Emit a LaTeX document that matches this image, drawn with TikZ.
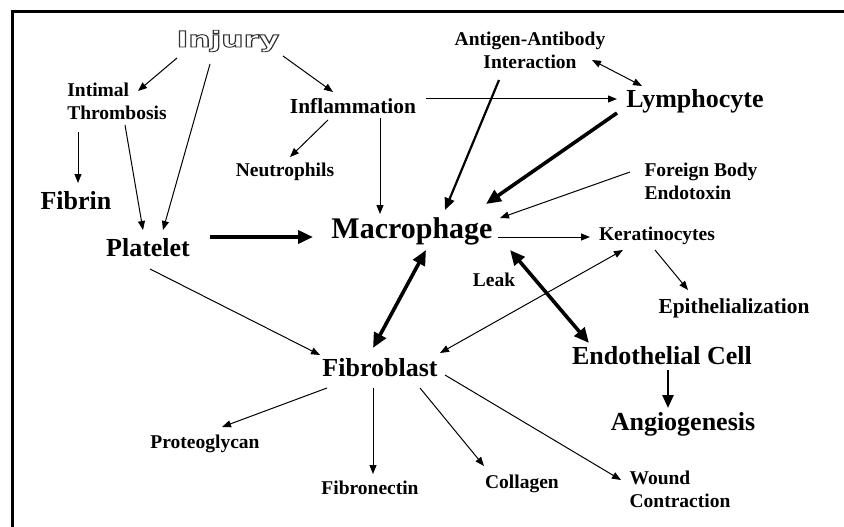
\documentclass[tikz,border=0pt]{standalone}
\usepackage{fontspec}
\setmainfont{Liberation Serif}
\newfontfamily\injuryfont{DejaVu Sans}
\usetikzlibrary{arrows.meta}
\newcommand{\outlinetext}[1]{\special{pdf:literal direct 1 Tr 0.9 w}#1\special{pdf:literal direct 0 Tr}}
\begin{document}
\begin{tikzpicture}[x=1pt,y=-1pt,
  lbl/.style={inner sep=0pt, align=left, font=\bfseries\fontsize{19.5}{23}\selectfont},
  lblc/.style={inner sep=0pt, align=center, font=\bfseries\fontsize{19.5}{23}\selectfont},
  mid/.style={inner sep=0pt, font=\bfseries\fontsize{21.4}{25}\selectfont},
  big/.style={inner sep=0pt, font=\bfseries\fontsize{26}{30}\selectfont},
  huge/.style={inner sep=0pt, font=\bfseries\fontsize{30}{34}\selectfont},
  thin/.style={line width=1pt, -{Triangle[length=9pt,width=7pt]}},
  thinb/.style={line width=1pt, {Triangle[length=9pt,width=7pt]}-{Triangle[length=9pt,width=7pt]}},
  medium/.style={line width=2.2pt, -{Triangle[length=12pt,width=10pt]}},
  thick/.style={line width=3.6pt, -{Triangle[length=15pt,width=13pt]}},
  thickb/.style={line width=3.6pt, {Triangle[length=15pt,width=13pt]}-{Triangle[length=15pt,width=13pt]}},
  vert/.style={line width=2.6pt, -{Triangle[length=13pt,width=11pt]}}
]
\useasboundingbox (0,0) rectangle (844,527);
\fill[white] (0,0) rectangle (844,527);
\draw[line width=3.5pt] (12.5,527) |- (844,11.75);

% nodes
\node[inner sep=0pt, text=black!80] (injury) at (228,41) {\scalebox{1.42}[1]{\injuryfont\bfseries\fontsize{22}{24}\selectfont\outlinetext{Injury}}};
\node[lbl] (intimal) at (117,101) {Intimal\\Thrombosis};
\node[big] (fibrin) at (76,201) {Fibrin};
\node[big] (platelet) at (148,248) {Platelet};
\node[huge] (macro) at (412,231) {Macrophage};
\node[mid] (infl) at (353,106) {Inflammation};
\node[lbl] (neut) at (285,172) {Neutrophils};
\node[lblc] (antigen) at (530,50) {Antigen-Antibody\\Interaction};
\node[big] (lymph) at (695,101) {Lymphocyte};
\node[lbl] (foreign) at (701,181) {Foreign Body\\Endotoxin};
\node[lbl] (kerat) at (657,236) {Keratinocytes};
\node[lbl] (leak) at (494,280) {Leak};
\node[mid] (epith) at (734,308) {Epithelialization};
\node[big] (endo) at (662,356) {Endothelial Cell};
\node[big] (angio) at (683,424) {Angiogenesis};
\node[big] (fibro) at (380,368) {Fibroblast};
\node[lbl] (proteo) at (205,444) {Proteoglycan};
\node[lbl] (fibronectin) at (370,488) {Fibronectin};
\node[lbl] (collagen) at (522,484) {Collagen};
\node[lbl] (wound) at (680,489) {Wound\\Contraction};

% connectors
\draw[thin] ([shift={(-51,17)}]injury.center) -- ([shift={(21,-10)}]intimal.center);
\draw[thin] ([shift={(-18,23)}]injury.center) -- ([shift={(15,-18)}]platelet.center);
\draw[thin] ([shift={(8,24)}]intimal.center) -- ([shift={(-5,-18)}]platelet.center);
\draw[thin] ([shift={(-39,31)}]intimal.center) -- ([shift={(2,-18)}]fibrin.center);
\draw[thin] ([shift={(55,15)}]injury.center) -- ([shift={(-20,-14)}]infl.center);
\draw[thin] ([shift={(-25,14)}]infl.center) -- ([shift={(5,-15)}]neut.center);
\draw[thin] ([shift={(27,12)}]infl.center) -- ([shift={(-32,-17)}]macro.center);
\draw[thin] ([shift={(73,-7)}]infl.center) -- ([shift={(-78,-2)}]lymph.center);
\draw[thinb] ([shift={(62,10)}]antigen.center) -- ([shift={(-53,-15)}]lymph.center);
\draw[medium] ([shift={(-31,30)}]antigen.center) -- ([shift={(33,-21)}]macro.center);
\draw[thick] ([shift={(-78,12)}]lymph.center) -- ([shift={(74,-27)}]macro.center);
\draw[thin] ([shift={(-71,-9)}]foreign.center) -- ([shift={(88,-13)}]macro.center);
\draw[thin] ([shift={(86,6)}]macro.center) -- ([shift={(-67,1)}]kerat.center);
\draw[thick] ([shift={(62,-11)}]platelet.center) -- ([shift={(-99,6)}]macro.center);
\draw[thin] ([shift={(-2,14)}]kerat.center) -- ([shift={(-46,-18)}]epith.center);
\draw[thinb] ([shift={(-34,14)}]kerat.center) -- ([shift={(60,-15)}]fibro.center);
\draw[thickb] ([shift={(14,19)}]macro.center) -- ([shift={(-7,-20)}]fibro.center);
\draw[thickb] ([shift={(98,19)}]macro.center) -- ([shift={(-73,-13)}]endo.center);
\draw[vert] ([shift={(6,14)}]endo.center) -- ([shift={(-15,-16)}]angio.center);
\draw[thin] ([shift={(2,21)}]platelet.center) -- ([shift={(-60,-13)}]fibro.center);
\draw[thin] ([shift={(-53,20)}]fibro.center) -- ([shift={(17,-17)}]proteo.center);
\draw[thin] ([shift={(-7,20)}]fibro.center) -- ([shift={(3,-14)}]fibronectin.center);
\draw[thin] ([shift={(40,20)}]fibro.center) -- ([shift={(-38,-18)}]collagen.center);
\draw[thin] ([shift={(65,7)}]fibro.center) -- ([shift={(-59,-9)}]wound.center);
\end{tikzpicture}
\end{document}
